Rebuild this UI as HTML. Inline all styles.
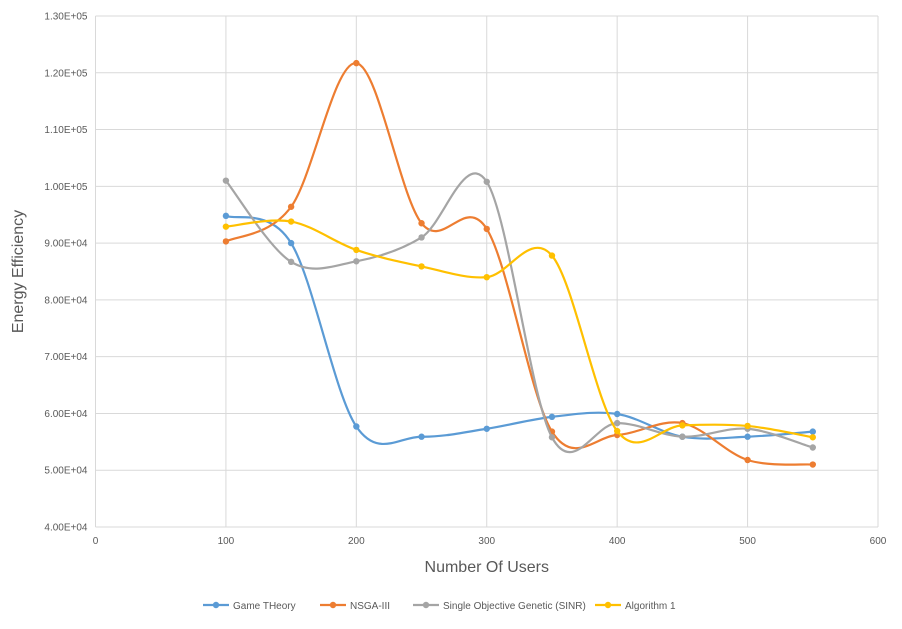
<!DOCTYPE html>
<html><head><meta charset="utf-8"><style>
body{margin:0;background:#fff;font-family:"Liberation Sans",sans-serif;}
svg text{font-family:"Liberation Sans",sans-serif;fill:#595959;}
</style></head><body>
<svg id="chart" width="902" height="624"></svg>
<script>
const xValues=[100,150,200,250,300,350,400,450,500,550];
const gameTheory=[94800,90000,57700,55900,57300,59400,59900,55900,55900,56800];
const nsga3=[90300,96400,121700,93500,92500,56800,56200,58300,51800,51000];
const sinr=[101000,86700,86800,91000,100800,55800,58300,55900,57300,54000];
const algorithm1=[92900,93800,88800,85900,84000,87800,56900,57900,57800,55800];
const seriesNames=["Game THeory","NSGA-III","Single Objective Genetic (SINR)","Algorithm 1"];
const xTicks=[0,100,200,300,400,500,600];
const yTicks=[40000,50000,60000,70000,80000,90000,100000,110000,120000,130000];
const yTickLabels=["4.00E+04","5.00E+04","6.00E+04","7.00E+04","8.00E+04","9.00E+04","1.00E+05","1.10E+05","1.20E+05","1.30E+05"];

const NS="http://www.w3.org/2000/svg";
const svg=document.getElementById('chart');
const L=95.5,R=878,T=16,B=527;
const xs=v=>L+(v-0)/(600-0)*(R-L);
const ys=v=>B-(v-40000)/(130000-40000)*(B-T);
function mk(tag,attrs,parent){const e=document.createElementNS(NS,tag);for(const k in attrs)e.setAttribute(k,attrs[k]);(parent||svg).appendChild(e);return e;}

const grid=mk('g',{});


yTicks.forEach((v,i)=>{
  mk('line',{x1:L,x2:R,y1:ys(v),y2:ys(v),stroke:'#d9d9d9','stroke-width':1},grid);
  const t=mk('text',{x:L-8,y:ys(v)+3.5,'text-anchor':'end','font-size':'10'});
  t.textContent=yTickLabels[i];
  
  
});
xTicks.forEach(v=>{
  mk('line',{x1:xs(v),x2:xs(v),y1:T,y2:B,stroke:'#d9d9d9','stroke-width':1},grid);
  const t=mk('text',{x:xs(v),y:B+17,'text-anchor':'middle','font-size':'10'});
  t.textContent=v;
  
  
});
const xt=mk('text',{x:(L+R)/2,y:572,'text-anchor':'middle','font-size':'16'});
xt.textContent='Number Of Users';


const yt=mk('text',{x:0,y:0,'text-anchor':'middle','font-size':'16',transform:'translate(23,'+((T+B)/2)+') rotate(-90)'});
yt.textContent='Energy Efficiency';



const colors=['#5B9BD5','#ED7D31','#A5A5A5','#FFC000'];
const allSeries=[gameTheory,nsga3,sinr,algorithm1];
function smoothPath(p){
  let d='M'+p[0][0]+','+p[0][1];
  for(let i=0;i<p.length-1;i++){
    const p0=p[i-1]||p[i],p1=p[i],p2=p[i+1],p3=p[i+2]||p[i+1];
    const c1=[p1[0]+(p2[0]-p0[0])/6,p1[1]+(p2[1]-p0[1])/6];
    const c2=[p2[0]-(p3[0]-p1[0])/6,p2[1]-(p3[1]-p1[1])/6];
    d+=' C'+c1+' '+c2+' '+p2;
  }
  return d;
}
allSeries.forEach((s,si)=>{
  const g=mk('g',{});
  
  
  const pts=s.map((v,i)=>[xs(xValues[i]),ys(v)]);
  mk('path',{d:smoothPath(pts),fill:'none',stroke:colors[si],'stroke-width':2.2},g);
  pts.forEach(p=>{
    const c=mk('circle',{cx:p[0],cy:p[1],r:3.2,fill:colors[si]},g);
    
    
  });
});

const legX=[203,320,413,595];
seriesNames.forEach((n,i)=>{
  const g=mk('g',{});
  
  
  mk('line',{x1:legX[i],x2:legX[i]+26,y1:605,y2:605,stroke:colors[i],'stroke-width':2.2},g);
  mk('circle',{cx:legX[i]+13,cy:605,r:3.2,fill:colors[i]},g);
  const t=mk('text',{x:legX[i]+30,y:609,'font-size':'10'},g);
  t.textContent=n;
});
</script>
</body></html>
